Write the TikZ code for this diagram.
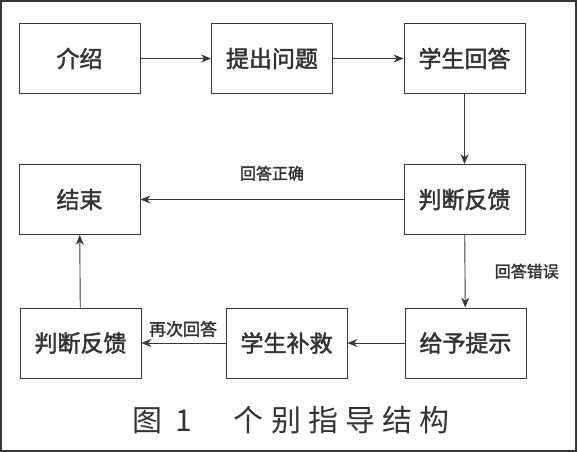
\documentclass[tikz,border=0pt]{standalone}
\usepackage{fontspec}
\setmainfont{Noto Sans CJK SC}
\newfontfamily\boxfont[FakeBold=2]{Noto Sans CJK SC}
\usetikzlibrary{arrows.meta}
\definecolor{inkgray}{RGB}{55,55,55}
\tikzset{
  stagebox/.style={draw=inkgray, line width=0.9pt, minimum width=121pt, minimum height=70pt, inner sep=0pt, font=\fontsize{23}{23}\boxfont, text=black!80},
  flow/.style={draw=inkgray, line width=0.9pt, -{Stealth[length=10pt,width=8pt]}},
  flowlabel/.style={font=\fontsize{16}{16}\boxfont, text=black!80}
}
\begin{document}
\begin{tikzpicture}[x=1pt,y=-1pt]
    \useasboundingbox (0,0) rectangle (578,452);
    \draw[inkgray, line width=2pt] (1,1) rectangle (576,451);
    % first row
    \node[stagebox] (intro) at (79.5,58.5) {介绍};
    \node[stagebox] (ask) at (272,58.5) {提出问题};
    \node[stagebox] (answer) at (464.5,58.5) {学生回答};
    % second row
    \node[stagebox] (finish) at (79.5,199.5) {结束};
    \node[stagebox] (judge) at (464.5,199.5) {判断反馈};
    % third row
    \node[stagebox] (judgeagain) at (80.5,343) {判断反馈};
    \node[stagebox] (remedy) at (286.5,343) {学生补救};
    \node[stagebox] (hint) at (465.5,343) {给予提示};
    % arrows
    \draw[flow] (intro) -- (ask);
    \draw[flow] (ask) -- (answer);
    \draw[flow] (answer) -- (judge);
    \draw[flow] (judge) -- node[flowlabel, above=15pt] {回答正确} (finish);
    \draw[flow] (judge) -- node[flowlabel, anchor=west, xshift=26pt] {回答错误} (hint);
    \draw[flow] (hint) -- (remedy);
    \draw[flow] (remedy) -- (judgeagain);
    \node[flowlabel, anchor=center, font=\fontsize{17}{17}\boxfont] (againlabel) at (183,329) {再次回答};
    \draw[flow] (judgeagain) -- (finish);
    % caption
    \node[anchor=west, inner sep=0pt, font=\fontsize{30}{30}\selectfont\addfontfeature{LetterSpace=24}, text=black!80] (caption) at (132,420) {图\hspace{13pt}1\hspace{42pt}个别指导结构};
\end{tikzpicture}
\end{document}
